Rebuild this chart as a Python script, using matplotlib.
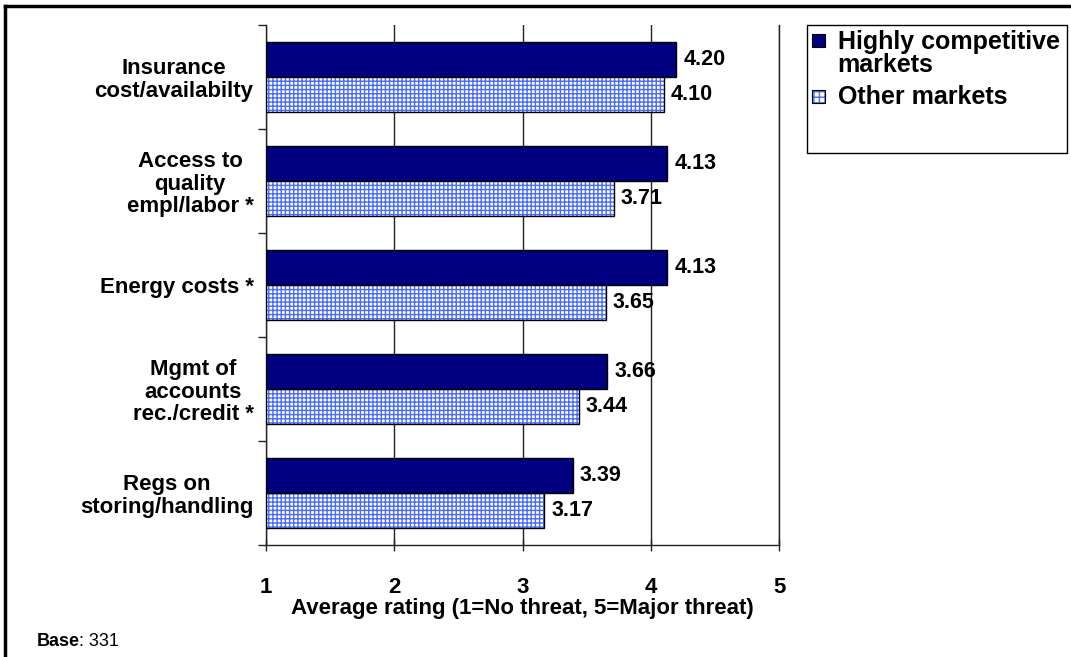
import matplotlib
matplotlib.use("Agg")
import matplotlib.pyplot as plt
from matplotlib.patches import Rectangle
from matplotlib.lines import Line2D
import numpy as np

plt.rcParams['font.family'] = ['Liberation Sans', 'DejaVu Sans']
plt.rcParams['hatch.linewidth'] = 1.0

categories = ["Insurance\ncost/availabilty",
              "Access to\nquality\nempl/labor *",
              "Energy costs *",
              "Mgmt of\naccounts\nrec./credit *",
              "Regs on\nstoring/handling"]
highly_competitive = [4.20, 4.13, 4.13, 3.66, 3.39]
other_markets = [4.10, 3.71, 3.65, 3.44, 3.17]
series_names = ["Highly competitive\nmarkets", "Other markets"]
x_ticks = [1, 2, 3, 4, 5]
x_label = "Average rating (1=No threat, 5=Major threat)"

navy = "#000080"
hatch_blue = "#4A6CF7"
axis_col = "#222222"

fig = plt.figure(figsize=(10.71, 6.57), dpi=100)
ax = fig.add_axes([0.2484, 0.1705, 0.4790, 0.7915])

y = np.arange(len(categories))
h = 0.335
base = 1

# navy bars
ax.barh(y - h / 2, np.array(highly_competitive) - base, left=base, height=h,
        color=navy, edgecolor="black", linewidth=1.0, zorder=3)
# hatched bars: hatch layer then outline
ax.barh(y + h / 2, np.array(other_markets) - base, left=base, height=h,
        color="white", edgecolor=hatch_blue, hatch="++++", linewidth=0, zorder=3)
ax.barh(y + h / 2, np.array(other_markets) - base, left=base, height=h,
        color="none", edgecolor="black", linewidth=1.0, zorder=4)

for yi, v in zip(y - h / 2, highly_competitive):
    ax.annotate(f"{v:.2f}", (v, yi), xytext=(5, 0), textcoords="offset points",
                va="center", ha="left", fontsize=15.5, fontweight="bold")
for yi, v in zip(y + h / 2, other_markets):
    ax.annotate(f"{v:.2f}", (v, yi), xytext=(5, 0), textcoords="offset points",
                va="center", ha="left", fontsize=15.5, fontweight="bold")

ax.set_xlim(1, 5)
ax.set_ylim(len(categories) - 0.5, -0.5)
ax.set_xticks(x_ticks)
ax.set_xticklabels([str(t) for t in x_ticks], fontsize=16, fontweight="bold")
ax.tick_params(axis="x", direction="inout", length=8, width=1, color=axis_col, pad=19)

ax.set_yticks(np.arange(len(categories) + 1) - 0.5)
ax.set_yticklabels([])
ax.set_yticks(y, minor=True)
ax.set_yticklabels(categories, minor=True, fontsize=16, fontweight="bold",
                   multialignment="center", linespacing=1.08)
ax.tick_params(axis="y", which="major", direction="out", length=6, width=1, color=axis_col)
ax.tick_params(axis="y", which="minor", length=0, pad=9)

ax.xaxis.grid(True, color=axis_col, linewidth=1.0, zorder=0)
ax.set_axisbelow(True)
ax.axvline(5, color=axis_col, linewidth=1.0, clip_on=False, zorder=1)
for s in ["top", "right"]:
    ax.spines[s].set_visible(False)
for s in ["left", "bottom"]:
    ax.spines[s].set_color(axis_col)
    ax.spines[s].set_linewidth(1.0)

ax.set_xlabel(x_label, fontsize=16, fontweight="bold", labelpad=0)

# legend box with its entries
fig.patches.append(Rectangle((0.7535, 0.767), 0.2428, 0.195, transform=fig.transFigure,
                             facecolor="white", edgecolor="black", linewidth=1.0))
legend_styles = [dict(facecolor=navy, edgecolor="black", linewidth=0.8),
                 dict(facecolor="white", edgecolor=hatch_blue, hatch="+++", linewidth=0)]
legend_rows = [0.938, 0.853]
for name, style, yr in zip(series_names, legend_styles, legend_rows):
    sq = Rectangle((0.7582, yr - 0.010), 0.0121, 0.0198, transform=fig.transFigure, **style)
    fig.patches.append(sq)
    if "hatch" in style:
        fig.patches.append(Rectangle((0.7582, yr - 0.010), 0.0121, 0.0198,
                                     transform=fig.transFigure, facecolor="none",
                                     edgecolor="black", linewidth=0.8))
    fig.text(0.7820, yr + 0.017, name, fontsize=18, fontweight="bold",
             va="top", ha="left", linespacing=0.95)

# base note
fig.text(0.034, 0.011, "Base", fontsize=13, fontweight="bold", va="bottom")
fig.text(0.0735, 0.011, ": 331", fontsize=13, va="bottom")

# frame lines along top and left edges
fig.add_artist(Line2D([0.0047, 1.0], [0.991, 0.991], transform=fig.transFigure,
                      color="black", linewidth=2.5))
fig.add_artist(Line2D([0.0047, 0.0047], [0.0, 0.991], transform=fig.transFigure,
                      color="black", linewidth=2.5))

fig.savefig("out.png", dpi=100)
